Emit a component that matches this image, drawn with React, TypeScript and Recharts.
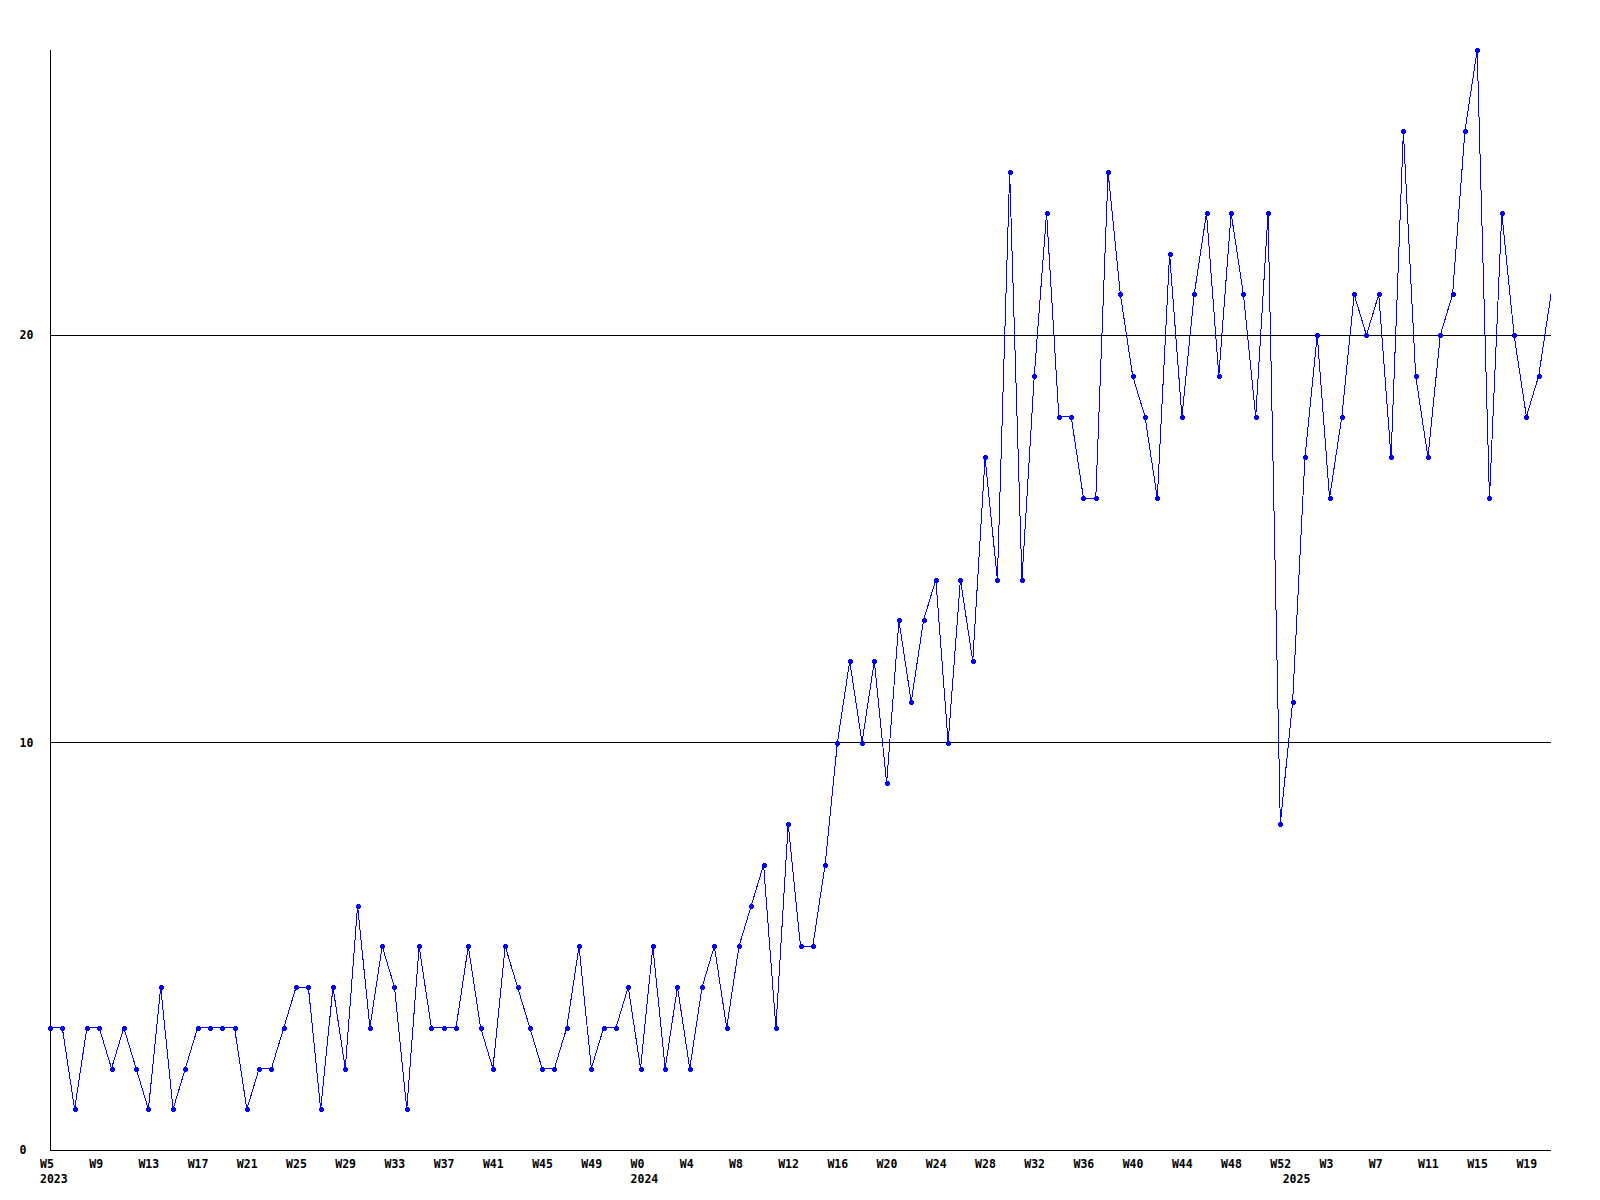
import React from "react";
import { LineChart, Line, XAxis, YAxis, ReferenceLine } from "recharts";

// Year ranges of week numbers (categories)
const yearRanges = [
  { year: 2023, first: 5, last: 52 },
  { year: 2024, first: 0, last: 52 },
  { year: 2025, first: 0, last: 21 },
];

// Weekly counts, one per category
const values = [
  3, 3, 1, 3, 3, 2, 3, 2, 1, 4, 1, 2, 3, 3, 3, 3, 1, 2, 2, 3, 4, 4, 1, 4, 2, 6, 3, 5, 4, 1, 5, 3, 3, 3,
  5, 3, 2, 5, 4, 3, 2, 2, 3, 5, 2, 3, 3, 4, 2, 5, 2, 4, 2, 4, 5, 3, 5, 6, 7, 3, 8, 5, 5, 7,
  10, 12, 10, 12, 9, 13, 11, 13, 14, 10, 14, 12, 17, 14, 24, 14, 19, 23, 18, 18, 16, 16, 24, 21, 19, 18, 16, 22, 18, 21, 23, 19, 23, 21, 18, 23,
  8, 11, 17, 20, 16, 18, 21, 20, 21, 17, 25, 19, 17, 20, 21, 25, 27, 16, 23, 20, 18, 19, 21,
];

const yTicks = [0, 10, 20];
const gridValues = [10, 20];

type Cat = { key: string; year: number; week: number; firstOfYear: boolean };
const categories: Cat[] = [];
yearRanges.forEach((r) => {
  for (let w = r.first; w <= r.last; w++) {
    categories.push({ key: `${r.year}-W${w}`, year: r.year, week: w, firstOfYear: w === r.first });
  }
});

const data = categories.map((c, i) => ({ key: c.key, value: values[i] }));

const FONT = "'DejaVu Sans Mono', monospace";

const XTick = (props: any) => {
  const { x, y, payload } = props;
  const i = payload.index;
  const c = categories[i];
  if (!c) return null;
  return (
    <g>
      {i % 4 === 0 && (
        <text x={x - 10} y={y + 17.5} textAnchor="start" fontFamily={FONT} fontWeight="bold" fontSize={11.5} fill="#000">
          {`W${c.week}`}
        </text>
      )}
      {c.firstOfYear && (
        <text x={x - 10} y={y + 33} textAnchor="start" fontFamily={FONT} fontWeight="bold" fontSize={11.5} fill="#000">
          {String(c.year)}
        </text>
      )}
    </g>
  );
};

const YTick = (props: any) => {
  const { y, payload } = props;
  return (
    <text x={19.5} y={y + 4} textAnchor="start" fontFamily={FONT} fontWeight="bold" fontSize={11.5} fill="#000">
      {String(payload.value)}
    </text>
  );
};

const Dot = (props: any) => {
  const { cx, cy, index } = props;
  if (index === values.length - 1 || cx == null || cy == null) return <g key={`d${index}`} />;
  const x = Math.round(cx);
  const y = Math.round(cy);
  const d = `M${x - 1.5} ${y - 2.5} h3 v1 h1 v3 h-1 v1 h-3 v-1 h-1 v-3 h1 z`;
  return <path key={`d${index}`} d={d} fill="#0000FF" stroke="none" shapeRendering="crispEdges" />;
};

export default function App() {
  return (
    <div style={{ position: "absolute", left: 0, top: 0, width: 1600, height: 1200, background: "#fff", shapeRendering: "crispEdges" as any }}>
      <LineChart width={1600} height={1200} data={data} margin={{ top: 50, right: 49, bottom: 0, left: 0 }}>
        <XAxis
          dataKey="key"
          interval={0}
          tickLine={false}
          tickSize={0}
          tickMargin={0}
          height={50}
          axisLine={{ stroke: "#000", strokeWidth: 1 }}
          tick={<XTick />}
        />
        <YAxis
          type="number"
          domain={[0, 27]}
          ticks={yTicks}
          width={50}
          tickLine={false}
          tickSize={0}
          tickMargin={0}
          axisLine={{ stroke: "#000", strokeWidth: 1 }}
          tick={<YTick />}
        />
        {gridValues.map((v) => (
          <ReferenceLine key={v} y={v} stroke="#000" strokeWidth={1} shapeRendering="crispEdges" />
        ))}
        <Line
          type="linear"
          dataKey="value"
          stroke="#0000FF"
          strokeWidth={1}
          dot={<Dot />}
          activeDot={false}
          isAnimationActive={false}
        />
      </LineChart>
    </div>
  );
}
